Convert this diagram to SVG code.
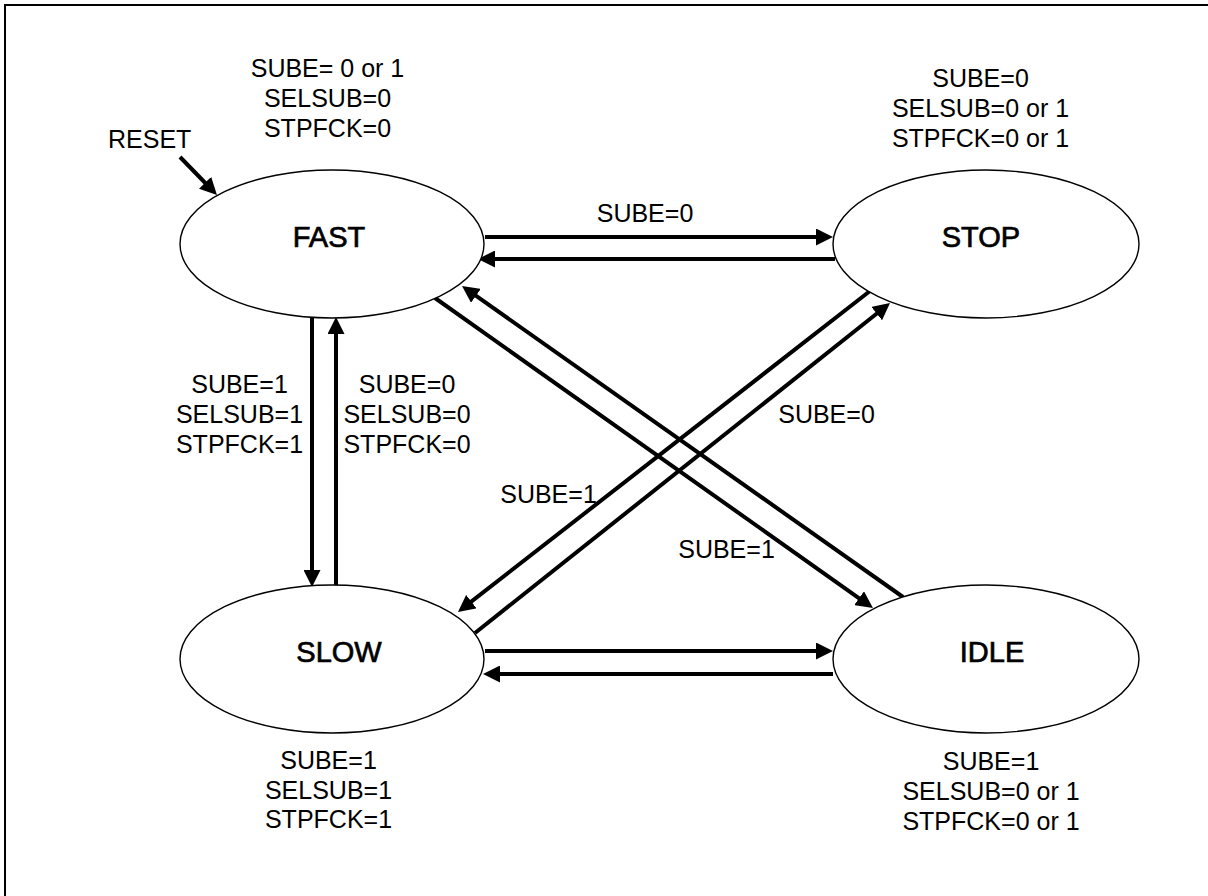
<svg xmlns="http://www.w3.org/2000/svg" width="1208" height="896" viewBox="0 0 1208 896">
<style>
.t{font-family:"Liberation Sans",Arial,sans-serif;font-size:25px;fill:#000;text-anchor:middle}
.n{font-family:"Liberation Sans",Arial,sans-serif;font-size:29px;fill:#000;stroke:#000;stroke-width:0.7;text-anchor:middle}
.st{fill:#fff;stroke:#000;stroke-width:1.4}
.c{stroke:#000;stroke-width:4;fill:none;marker-end:url(#ah)}
</style>
<defs>
<marker id="ah" markerUnits="userSpaceOnUse" markerWidth="17" markerHeight="17" refX="1" refY="8.5" orient="auto">
<path d="M0,0 L17,8.5 L0,17 z" fill="#000"/>
</marker>
</defs>
<rect width="1208" height="896" fill="#fff"/>
<path d="M5,896 L5,5 L1208,5" fill="none" stroke="#000" stroke-width="2"/>

<g id="connectors">
<line class="c" x1="180" y1="157" x2="205.8" y2="183.5"/>
<line class="c" x1="312" y1="317" x2="312" y2="571"/>
<line class="c" x1="336" y1="585" x2="336" y2="333"/>
<line class="c" x1="485" y1="237" x2="817" y2="237"/>
<line class="c" x1="835" y1="259" x2="494" y2="259"/>
<line class="c" x1="485" y1="651" x2="817" y2="651"/>
<line class="c" x1="833" y1="674" x2="499" y2="674"/>
<line class="c" x1="435" y1="298" x2="859.9" y2="598.8"/>
<line class="c" x1="903" y1="597" x2="475.1" y2="295.2"/>
<line class="c" x1="870" y1="291" x2="470.6" y2="602.2"/>
<line class="c" x1="475" y1="633" x2="877.5" y2="313"/>
<text class="t" x="645" y="222">SUBE=0</text>
<text class="t" x="239.5" y="393">SUBE=1</text>
<text class="t" x="239.5" y="423">SELSUB=1</text>
<text class="t" x="239.5" y="453">STPFCK=1</text>
<text class="t" x="407" y="393">SUBE=0</text>
<text class="t" x="407" y="423">SELSUB=0</text>
<text class="t" x="407" y="453">STPFCK=0</text>
<text class="t" x="826.5" y="423">SUBE=0</text>
<text class="t" x="548.5" y="503">SUBE=1</text>
<text class="t" x="726.5" y="558">SUBE=1</text>
<text class="t" x="108" y="148" style="text-anchor:start">RESET</text>
</g>

<g id="fast">
<ellipse class="st" cx="332" cy="244" rx="152" ry="74"/>
<text class="n" x="329" y="247">FAST</text>
<text class="t" x="327.5" y="77">SUBE= 0 or 1</text>
<text class="t" x="327.5" y="107">SELSUB=0</text>
<text class="t" x="327.5" y="137">STPFCK=0</text>
</g>

<g id="stop">
<ellipse class="st" cx="986" cy="244" rx="153" ry="74"/>
<text class="n" x="981" y="247">STOP</text>
<text class="t" x="980.5" y="87">SUBE=0</text>
<text class="t" x="980.5" y="117">SELSUB=0 or 1</text>
<text class="t" x="980.5" y="147">STPFCK=0 or 1</text>
</g>

<g id="slow">
<ellipse class="st" cx="332" cy="659" rx="152" ry="74"/>
<text class="n" x="339" y="662">SLOW</text>
<text class="t" x="328.5" y="769">SUBE=1</text>
<text class="t" x="328.5" y="799">SELSUB=1</text>
<text class="t" x="328.5" y="828">STPFCK=1</text>
</g>

<g id="idle">
<ellipse class="st" cx="986" cy="659" rx="153" ry="74"/>
<text class="n" x="992" y="662">IDLE</text>
<text class="t" x="991" y="770">SUBE=1</text>
<text class="t" x="991" y="800">SELSUB=0 or 1</text>
<text class="t" x="991" y="830">STPFCK=0 or 1</text>
</g>
</svg>
